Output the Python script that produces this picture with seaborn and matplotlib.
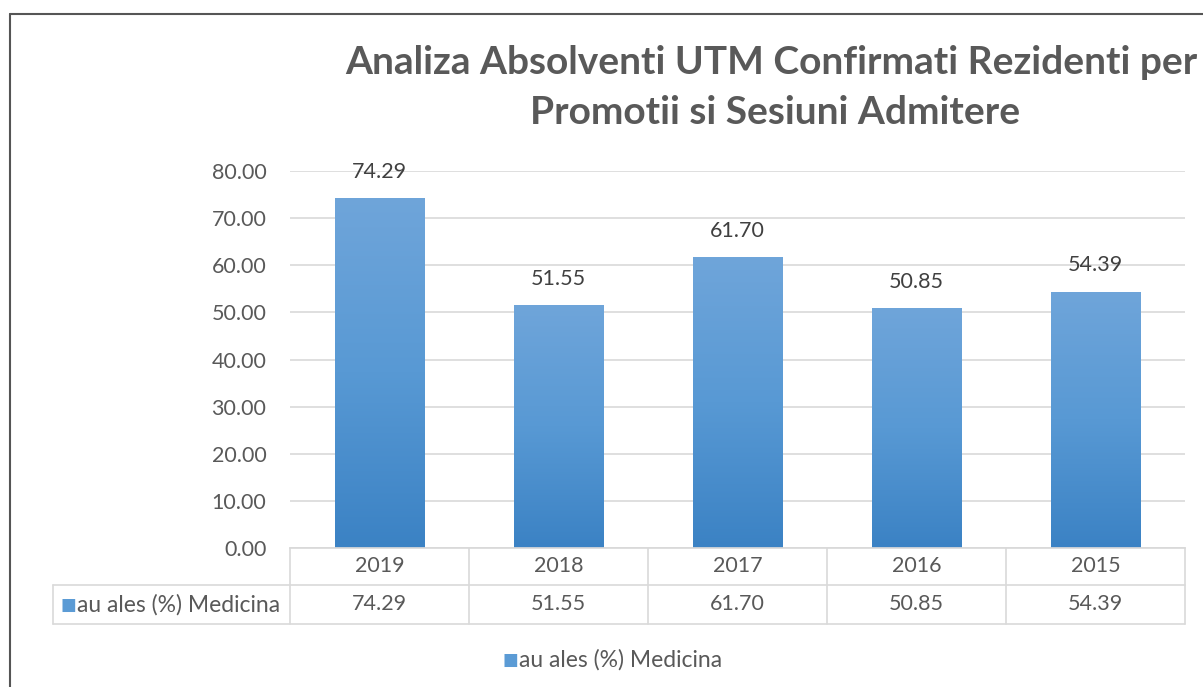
import matplotlib
matplotlib.use("Agg")
import matplotlib.pyplot as plt
import seaborn as sns
import numpy as np
import pandas as pd
from matplotlib.colors import LinearSegmentedColormap

years = ["2019", "2018", "2017", "2016", "2015"]
values = [74.29, 51.55, 61.70, 50.85, 54.39]
series_name = "au ales (%) Medicina"
title_line1 = "Analiza Absolventi UTM Confirmati Rezidenti per"
title_line2 = "Promotii si Sesiuni Admitere"
yticks = [0, 10, 20, 30, 40, 50, 60, 70, 80]

df = pd.DataFrame({"an": years, "val": values})

sns.set_theme(style="white")
plt.rcParams['font.family'] = ['Lato', 'DejaVu Sans']

W, H = 1203, 687
fig = plt.figure(figsize=(W / 100, H / 100), dpi=100)
gray = "#595959"
grid_c = "#d9d9d9"
fs = 15.5
fs_leg = 16.5

ax = fig.add_axes([290 / W, 1 - 548 / H, 895 / W, 377 / H])
sns.barplot(data=df, x="an", y="val", color="#5b9bd5", width=0.5, ax=ax,
            edgecolor="none", saturation=1)
ax.set_ylim(0, 80)
ax.set_xlim(-0.5, len(years) - 0.5)
ax.set_yticks(yticks)
ax.set_yticklabels([f"{v:.2f}" for v in yticks], color=gray, fontsize=fs)
ax.tick_params(axis="y", length=0, pad=17)
ax.set_xticks([])
ax.set_xlabel("")
ax.set_ylabel("")
for s in ["top", "right", "left"]:
    ax.spines[s].set_visible(False)
ax.spines["bottom"].set_color(grid_c)
ax.yaxis.grid(True, color=grid_c, linewidth=1.2)
ax.set_axisbelow(True)

# gradient fill for bars
cmap = LinearSegmentedColormap.from_list("g", ["#3b82c4", "#5899d4", "#6fa5da"])
grad = np.linspace(0, 1, 256).reshape(-1, 1)
for p in list(ax.patches):
    x0, y0 = p.get_x(), p.get_y()
    w, h = p.get_width(), p.get_height()
    im = ax.imshow(grad, extent=[x0, x0 + w, y0, y0 + h], origin="lower",
                   cmap=cmap, aspect="auto", zorder=p.get_zorder() + 0.1)
    im.set_clip_path(p)
ax.set_xlim(-0.5, len(years) - 0.5)
ax.set_ylim(0, 80)

# data labels
for i, v in enumerate(values):
    ax.annotate(f"{v:.2f}", (i, v), xytext=(0, 19), textcoords="offset points",
                ha="center", va="center", color="#404040", fontsize=fs)

# data table
ax_h = 377.0
r1 = -37 / ax_h
r2 = -76 / ax_h
left_ax = (53 - 290) / 895
bt = ax.get_xaxis_transform()
lk = dict(color=grid_c, linewidth=1.2, clip_on=False)
for b in np.arange(-0.5, len(years), 1.0):
    ax.plot([b, b], [0, r2], transform=bt, **lk)
ax.plot([left_ax, 1], [r1, r1], transform=ax.transAxes, **lk)
ax.plot([left_ax, 1], [r2, r2], transform=ax.transAxes, **lk)
ax.plot([left_ax, left_ax], [r1, r2], transform=ax.transAxes, **lk)
for i, (yr, v) in enumerate(zip(years, values)):
    ax.text(i, r1 / 2, yr, transform=bt, ha="center", va="center",
            color=gray, fontsize=fs, clip_on=False)
    ax.text(i, (r1 + r2) / 2, f"{v:.2f}", transform=bt, ha="center", va="center",
            color=gray, fontsize=fs, clip_on=False)
# legend key inside table
ax.text(left_ax + 8 / 895, (r1 + r2) / 2, "\u25A0", transform=ax.transAxes,
        ha="left", va="center", color="#5b9bd5", fontsize=12, family="DejaVu Sans")
ax.text(left_ax + 24 / 895, (r1 + r2) / 2, series_name, transform=ax.transAxes,
        ha="left", va="center", color=gray, fontsize=fs_leg)

# bottom legend
fig.text(503 / W, 1 - 660 / H, "\u25A0", ha="left", va="center", color="#5b9bd5",
         fontsize=12, family="DejaVu Sans")
fig.text(519 / W, 1 - 660 / H, series_name, ha="left", va="center", color=gray,
         fontsize=fs_leg)

# title
fig.text(345 / W, 1 - 62 / H, title_line1,
         ha="left", va="center", color=gray, fontsize=28, fontweight="bold")
fig.text(775 / W, 1 - 112 / H, title_line2,
         ha="center", va="center", color=gray, fontsize=28, fontweight="bold")

# chart border (left and top)
fig.add_artist(plt.Line2D([10 / W, 10 / W], [0, 1 - 14 / H], transform=fig.transFigure,
                          color="#555555", linewidth=1.5))
fig.add_artist(plt.Line2D([10 / W, 1], [1 - 14 / H, 1 - 14 / H], transform=fig.transFigure,
                          color="#555555", linewidth=1.5))

fig.savefig("out.png", dpi=100)
